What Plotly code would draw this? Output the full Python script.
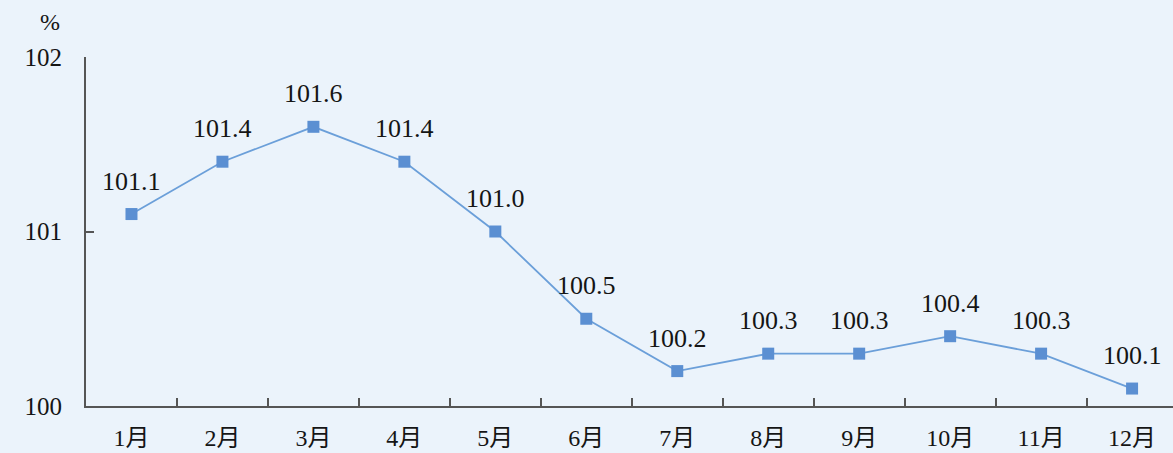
import plotly.graph_objects as go

months = ["1月", "2月", "3月", "4月", "5月", "6月", "7月", "8月", "9月", "10月", "11月", "12月"]
values = [101.1, 101.4, 101.6, 101.4, 101.0, 100.5, 100.2, 100.3, 100.3, 100.4, 100.3, 100.1]
labels = ["101.1", "101.4", "101.6", "101.4", "101.0", "100.5", "100.2", "100.3", "100.3", "100.4", "100.3", "100.1"]
y_ticks = [100, 101, 102]

FONT = "'Liberation Serif', 'Noto Sans CJK SC', serif"
BG = "#ebf3fb"

fig = go.Figure()
fig.add_trace(go.Scatter(
    x=months, y=values, mode="lines+markers",
    line=dict(color="#6b9fd9", width=1.8),
    marker=dict(symbol="square", size=12, color="#5b8fd2"),
    hoverinfo="skip", showlegend=False,
))

for m, v, t in zip(months, values, labels):
    fig.add_annotation(x=m, y=v, text=t, showarrow=False, yshift=33,
                       font=dict(family=FONT, size=26, color="#151515"))

fig.add_annotation(xref="paper", yref="paper", x=-0.033, y=1.0, yshift=20,
                   text="%", showarrow=False, xanchor="center", yanchor="bottom",
                   font=dict(family=FONT, size=24, color="#151515"))

fig.update_layout(
    width=1173, height=453,
    margin=dict(l=86, r=0, t=57, b=47, autoexpand=False),
    paper_bgcolor=BG, plot_bgcolor=BG,
    font=dict(family=FONT, size=24, color="#151515"),
    xaxis=dict(
        type="category", categoryorder="array", categoryarray=months,
        range=[-0.5, 11.45], showgrid=False, zeroline=False, automargin=False,
        showline=True, linecolor="#555555", linewidth=2,
        ticks="inside", tickson="boundaries", ticklen=8, tickcolor="#555555", tickwidth=1.5,
        ticklabelstandoff=9,
        tickfont=dict(family=FONT, size=24, color="#151515"),
    ),
    yaxis=dict(
        range=[100, 102], tickvals=y_ticks, showgrid=False, zeroline=False, automargin=False,
        showline=True, linecolor="#555555", linewidth=2,
        ticks="inside", ticklen=8, tickcolor="#555555", tickwidth=1.5,
        ticklabelstandoff=17,
        tickfont=dict(family=FONT, size=25, color="#151515"),
    ),
)

fig.write_html("out.html")
